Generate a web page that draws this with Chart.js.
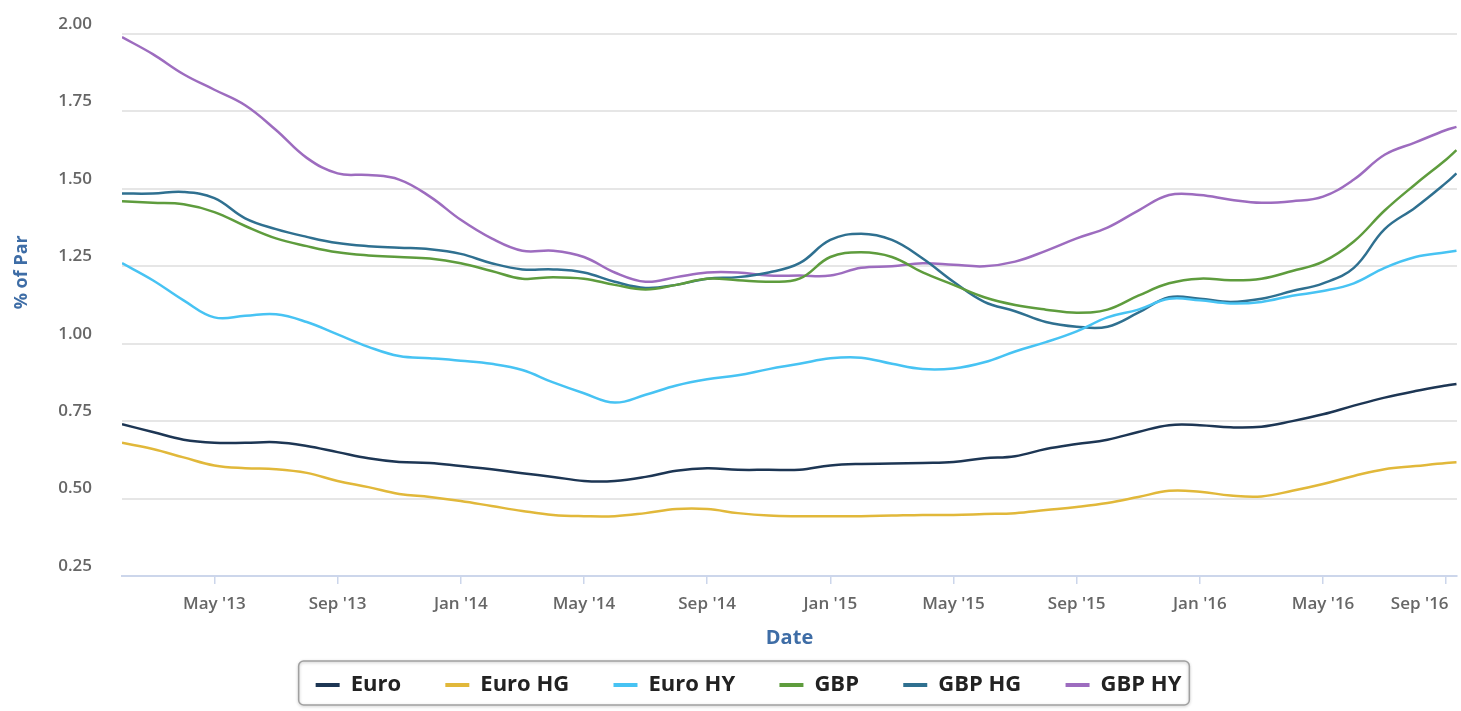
<!DOCTYPE html>
<html lang="en">

<head>
    <meta charset="UTF-8">
    <title>% of Par</title>
    <script src="https://cdn.jsdelivr.net/npm/chart.js"></script>
    <style>
        body { margin: 0; background: #fff; }
        #wrap { width: 1461px; height: 711px; }
    </style>
</head>

<body>
    <div id="wrap">
        <canvas id="parChart" width="1461" height="711"></canvas>
    </div>

    <script>
        // dates of the points (month start, last one is a mid-September reading)
        const dates = [
            '2013-02-01', '2013-03-01', '2013-04-01', '2013-05-01', '2013-06-01', '2013-07-01', '2013-08-01', '2013-09-01',
            '2013-10-01', '2013-11-01', '2013-12-01', '2014-01-01', '2014-02-01', '2014-03-01', '2014-04-01', '2014-05-01',
            '2014-06-01', '2014-07-01', '2014-08-01', '2014-09-01', '2014-10-01', '2014-11-01', '2014-12-01', '2015-01-01',
            '2015-02-01', '2015-03-01', '2015-04-01', '2015-05-01', '2015-06-01', '2015-07-01', '2015-08-01', '2015-09-01',
            '2015-10-01', '2015-11-01', '2015-12-01', '2016-01-01', '2016-02-01', '2016-03-01', '2016-04-01', '2016-05-01',
            '2016-06-01', '2016-07-01', '2016-08-01', '2016-09-01', '2016-09-11'
        ];

        const euro = [0.74, 0.715, 0.69, 0.68, 0.68, 0.682, 0.67, 0.65, 0.63, 0.618, 0.615, 0.605, 0.595, 0.582, 0.57,
            0.557, 0.557, 0.57, 0.59, 0.598, 0.593, 0.593, 0.593, 0.607, 0.612, 0.613, 0.615, 0.618, 0.63, 0.637,
            0.66, 0.676, 0.69, 0.715, 0.737, 0.737, 0.73, 0.732, 0.75, 0.772, 0.80, 0.826, 0.847, 0.865, 0.87];
        const euroHG = [0.68, 0.66, 0.633, 0.607, 0.598, 0.595, 0.583, 0.557, 0.537, 0.515, 0.505, 0.492, 0.476, 0.46, 0.447,
            0.443, 0.443, 0.453, 0.466, 0.466, 0.453, 0.445, 0.443, 0.443, 0.443, 0.445, 0.447, 0.447, 0.45, 0.453,
            0.463, 0.473, 0.486, 0.505, 0.525, 0.522, 0.51, 0.507, 0.525, 0.547, 0.573, 0.595, 0.605, 0.615, 0.617];
        const euroHY = [1.26, 1.205, 1.14, 1.085, 1.09, 1.095, 1.07, 1.03, 0.99, 0.96, 0.953, 0.945, 0.935, 0.915, 0.875,
            0.84, 0.81, 0.835, 0.865, 0.885, 0.898, 0.918, 0.935, 0.953, 0.955, 0.935, 0.918, 0.92, 0.94, 0.975,
            1.005, 1.04, 1.085, 1.11, 1.145, 1.14, 1.13, 1.135, 1.155, 1.17, 1.195, 1.245, 1.28, 1.295, 1.30];
        const gbp = [1.46, 1.455, 1.45, 1.425, 1.38, 1.34, 1.315, 1.295, 1.285, 1.28, 1.275, 1.26, 1.235, 1.21, 1.215,
            1.21, 1.19, 1.175, 1.19, 1.21, 1.205, 1.20, 1.21, 1.28, 1.295, 1.28, 1.23, 1.19, 1.15, 1.125,
            1.11, 1.10, 1.11, 1.155, 1.195, 1.21, 1.205, 1.21, 1.235, 1.265, 1.33, 1.43, 1.515, 1.595, 1.625];
        const gbpHG = [1.485, 1.485, 1.49, 1.47, 1.405, 1.37, 1.345, 1.325, 1.315, 1.31, 1.305, 1.29, 1.26, 1.24, 1.24,
            1.23, 1.20, 1.18, 1.19, 1.21, 1.215, 1.23, 1.26, 1.335, 1.355, 1.335, 1.275, 1.20, 1.135, 1.105,
            1.07, 1.055, 1.055, 1.10, 1.15, 1.145, 1.135, 1.145, 1.17, 1.195, 1.245, 1.37, 1.44, 1.52, 1.55];
        const gbpHY = [1.99, 1.935, 1.87, 1.82, 1.77, 1.69, 1.60, 1.55, 1.545, 1.53, 1.475, 1.40, 1.34, 1.30, 1.30,
            1.28, 1.23, 1.20, 1.215, 1.23, 1.23, 1.22, 1.22, 1.22, 1.245, 1.25, 1.26, 1.255, 1.25, 1.265,
            1.30, 1.34, 1.375, 1.43, 1.48, 1.48, 1.465, 1.455, 1.46, 1.475, 1.53, 1.61, 1.65, 1.69, 1.70];

        const seriesNames = ['Euro', 'Euro HG', 'Euro HY', 'GBP', 'GBP HG', 'GBP HY'];
        const seriesColors = ['#1d3654', '#e1b83a', '#47c3f3', '#5e9c3d', '#2f7090', '#9d6cbf'];

        const tickDates = ['2013-05-01', '2013-09-01', '2014-01-01', '2014-05-01', '2014-09-01', '2015-01-01',
            '2015-05-01', '2015-09-01', '2016-01-01', '2016-05-01', '2016-09-01'];
        const tickLabels = ["May '13", "Sep '13", "Jan '14", "May '14", "Sep '14", "Jan '15",
            "May '15", "Sep '15", "Jan '16", "May '16", "Sep '16"];

        // months since Jan 2013 (fractional)
        function monthIndex(d) {
            const [y, m, day] = d.split('-').map(Number);
            return (y - 2013) * 12 + (m - 1) + (day - 1) / 30;
        }

        const xs = dates.map(monthIndex);
        const allValues = [euro, euroHG, euroHY, gbp, gbpHG, gbpHY];

        const datasets = allValues.map((vals, i) => ({
            label: seriesNames[i],
            data: vals.map((v, j) => ({ x: xs[j], y: v })),
            borderColor: seriesColors[i],
            backgroundColor: seriesColors[i],
            borderWidth: 2.5,
            pointRadius: 0,
            tension: 0.4,
        }));

        const textFont = "'Open Sans', 'DejaVu Sans', sans-serif";
        const nbsp = '\u00a0';

        // rounded frame around the legend items
        const legendFrame = {
            id: 'legendFrame',
            afterDraw(chart) {
                const lg = chart.legend;
                if (!lg || !lg.legendHitBoxes.length) return;
                const boxes = lg.legendHitBoxes;
                const left = Math.min(...boxes.map(b => b.left)) - 17;
                const right = Math.max(...boxes.map(b => b.left + b.width)) + 8;
                const top = lg.top - 3;
                const bottom = lg.bottom - 1;
                const ctx = chart.ctx;
                ctx.save();
                ctx.shadowColor = 'rgba(0,0,0,0.25)';
                ctx.shadowBlur = 3;
                ctx.shadowOffsetY = 1;
                ctx.strokeStyle = '#a0a0a0';
                ctx.lineWidth = 1.5;
                ctx.beginPath();
                ctx.roundRect(left, top, right - left, bottom - top, 5);
                ctx.stroke();
                ctx.restore();
            }
        };

        new Chart(document.getElementById('parChart'), {
            type: 'line',
            data: { datasets: datasets },
            options: {
                responsive: false,
                animation: false,
                layout: { padding: { left: 40, right: 4, top: 34, bottom: 5 } },
                plugins: {
                    tooltip: { enabled: false },
                    legend: {
                        position: 'bottom',
                        labels: {
                            boxWidth: 24,
                            boxHeight: 4,
                            padding: 10,
                            color: '#222',
                            font: { family: textFont, size: 22, weight: 'bold' },
                            generateLabels(chart) {
                                const items = Chart.defaults.plugins.legend.labels.generateLabels(chart);
                                items.forEach((it, i) => {
                                    it.lineWidth = 0;
                                    it.fillStyle = it.strokeStyle;
                                    if (i < items.length - 1) it.text += nbsp.repeat(6);
                                });
                                return items;
                            }
                        }
                    }
                },
                scales: {
                    x: {
                        type: 'linear',
                        min: 1,
                        max: 44.35,
                        afterBuildTicks(scale) {
                            scale.ticks = tickDates.map(d => ({ value: monthIndex(d) }));
                        },
                        afterFit(scale) {
                            scale.height = 88;
                            scale.paddingLeft = 0;
                            scale.paddingRight = 0;
                        },
                        grid: { drawOnChartArea: false, drawTicks: true, tickLength: 8, color: '#ccd6eb', lineWidth: 1.5 },
                        border: { color: '#ccd6eb', width: 2 },
                        ticks: {
                            autoSkip: false,
                            maxRotation: 0,
                            padding: 10,
                            color: '#666',
                            font: { family: textFont, size: 17, weight: '600' },
                            callback: (v, i) => i === tickLabels.length - 1 ? tickLabels[i] + nbsp.repeat(12) : tickLabels[i]
                        },
                        title: {
                            display: true,
                            text: 'Date',
                            color: '#3e6da6',
                            font: { family: textFont, size: 20, weight: 'bold' },
                            padding: { top: 0, bottom: 14 }
                        }
                    },
                    y: {
                        min: 0.25,
                        max: 2,
                        afterFit(scale) {
                            scale.width = 82;
                            scale.paddingTop = 0;
                            scale.paddingBottom = 0;
                        },
                        grid: { color: '#e6e6e6', lineWidth: 2, drawTicks: false },
                        border: { display: false },
                        ticks: {
                            stepSize: 0.25,
                            padding: 30,
                            labelOffset: -10,
                            color: '#666',
                            font: { family: textFont, size: 17, weight: '600' },
                            callback: v => v.toFixed(2)
                        },
                        title: {
                            display: true,
                            text: nbsp.repeat(14) + '% of Par',
                            color: '#3e6da6',
                            font: { family: textFont, size: 18, weight: 'bold' },
                            padding: { top: -29, bottom: 0 }
                        }
                    }
                }
            },
            plugins: [legendFrame]
        });
    </script>

</body>

</html>
